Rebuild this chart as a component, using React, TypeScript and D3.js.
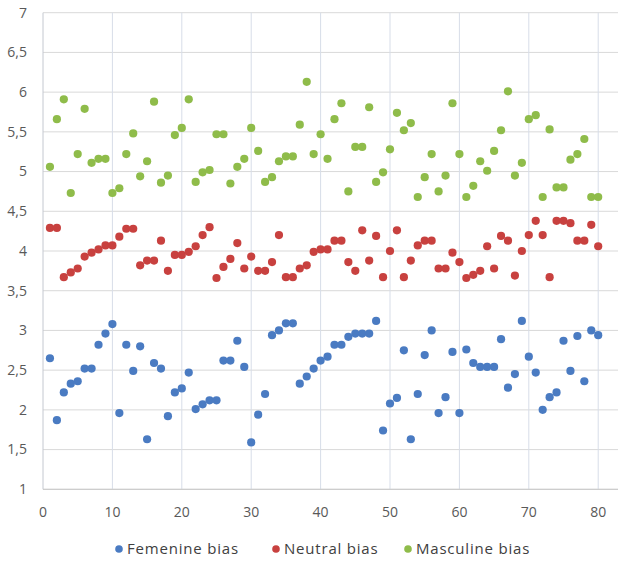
import React from "react";
import * as d3 from "d3";

const femenine = [2.65, 1.87, 2.22, 2.33, 2.36, 2.52, 2.52, 2.82, 2.96, 3.08, 1.96, 2.82, 2.49, 2.8, 1.63, 2.59, 2.52, 1.92, 2.22, 2.27, 2.47, 2.01, 2.07, 2.12, 2.12, 2.62, 2.62, 2.87, 2.54, 1.59, 1.94, 2.2, 2.94, 3.0, 3.09, 3.09, 2.33, 2.42, 2.52, 2.62, 2.67, 2.82, 2.82, 2.92, 2.96, 2.96, 2.96, 3.12, 1.74, 2.08, 2.15, 2.75, 1.63, 2.2, 2.69, 3.0, 1.96, 2.16, 2.73, 1.96, 2.76, 2.59, 2.54, 2.54, 2.54, 2.89, 2.28, 2.45, 3.12, 2.67, 2.47, 2.0, 2.16, 2.22, 2.87, 2.49, 2.93, 2.36, 3.0, 2.94];
const neutral = [4.29, 4.29, 3.67, 3.73, 3.78, 3.93, 3.98, 4.02, 4.07, 4.07, 4.18, 4.28, 4.28, 3.82, 3.88, 3.88, 4.13, 3.75, 3.95, 3.95, 3.99, 4.06, 4.2, 4.3, 3.66, 3.8, 3.9, 4.1, 3.78, 3.93, 3.75, 3.75, 3.86, 4.2, 3.67, 3.67, 3.78, 3.82, 3.99, 4.02, 4.02, 4.13, 4.13, 3.86, 3.75, 4.26, 3.88, 4.19, 3.67, 4.0, 4.26, 3.67, 3.88, 4.07, 4.13, 4.13, 3.78, 3.78, 3.98, 3.86, 3.66, 3.7, 3.75, 4.06, 3.78, 4.19, 4.13, 3.69, 4.0, 4.2, 4.38, 4.2, 3.67, 4.38, 4.38, 4.35, 4.13, 4.13, 4.33, 4.06];
const masculine = [5.06, 5.66, 5.91, 4.73, 5.22, 5.79, 5.11, 5.16, 5.16, 4.73, 4.79, 5.22, 5.48, 4.94, 5.13, 5.88, 4.86, 4.95, 5.46, 5.55, 5.91, 4.87, 4.99, 5.02, 5.47, 5.47, 4.85, 5.06, 5.16, 5.55, 5.26, 4.87, 4.93, 5.13, 5.19, 5.19, 5.59, 6.13, 5.22, 5.47, 5.16, 5.66, 5.86, 4.75, 5.31, 5.31, 5.81, 4.87, 4.99, 5.28, 5.74, 5.52, 5.61, 4.68, 4.93, 5.22, 4.75, 4.95, 5.86, 5.22, 4.68, 4.82, 5.13, 5.01, 5.26, 5.52, 6.01, 4.95, 5.11, 5.66, 5.71, 4.68, 5.53, 4.8, 4.8, 5.15, 5.22, 5.41, 4.68, 4.68];

const seriesNames = ["Femenine bias", "Neutral bias", "Masculine bias"];
const seriesColors = ["#4a7bc2", "#c8413f", "#8fbc4a"];
const xTicks = [0, 10, 20, 30, 40, 50, 60, 70, 80];
const yTicks = [1, 1.5, 2, 2.5, 3, 3.5, 4, 4.5, 5, 5.5, 6, 6.5, 7];

const W = 625;
const H = 563;
const left = 43;
const right = 618;
const top = 12.7;
const bottom = 489.3;

export default function App() {
  const x = d3.scaleLinear().domain([0, 80]).range([left, left + 8 * 69.4]);
  const y = d3.scaleLinear().domain([1, 7]).range([bottom, top]);
  const all = [femenine, neutral, masculine];
  const fmt = (v: number) => String(v).replace(".", ",");
  const font = "'Open Sans', 'DejaVu Sans', sans-serif";
  const legendX = [119, 276, 408];

  return (
    <svg width={W} height={H} style={{ position: "absolute", left: 0, top: 0, background: "#fff" }}>
      <rect x={0} y={0} width={W} height={H} fill="#fff" />
      {yTicks.map((t) => (
        <line key={"hy" + t} x1={left} x2={right} y1={y(t)} y2={y(t)} stroke="#d9d9d9" strokeWidth={1} />
      ))}
      {xTicks.map((t) => (
        <line key={"vx" + t} x1={x(t)} x2={x(t)} y1={top} y2={bottom} stroke={t === 0 ? "#c4c8d0" : "#d7dde8"} strokeWidth={1} />
      ))}
      <line x1={left} x2={right} y1={bottom} y2={bottom} stroke="#c8c8c8" strokeWidth={1} />
      {yTicks.map((t) => (
        <text key={"yl" + t} x={27} y={y(t)} dy="0.35em" textAnchor="end" fontSize={14} fill="#595959" fontFamily={font}>
          {fmt(t)}
        </text>
      ))}
      {xTicks.map((t) => (
        <text key={"xl" + t} x={x(t)} y={512} dy="0.35em" textAnchor="middle" fontSize={14} fill="#595959" fontFamily={font}>
          {t}
        </text>
      ))}
      {all.map((s, si) => (
        <g key={"s" + si}>
          {s.map((v, i) => (
            <circle key={i} cx={x(i + 1)} cy={y(v)} r={4.1} fill={seriesColors[si]} />
          ))}
        </g>
      ))}
      {seriesNames.map((n, i) => (
        <g key={"lg" + i}>
          <circle cx={legendX[i]} cy={549} r={3.8} fill={seriesColors[i]} />
          <text x={legendX[i] + 8} y={549} dy="0.35em" fontSize={15} fill="#404040" fontFamily={font} letterSpacing={0.8}>
            {n}
          </text>
        </g>
      ))}
    </svg>
  );
}
